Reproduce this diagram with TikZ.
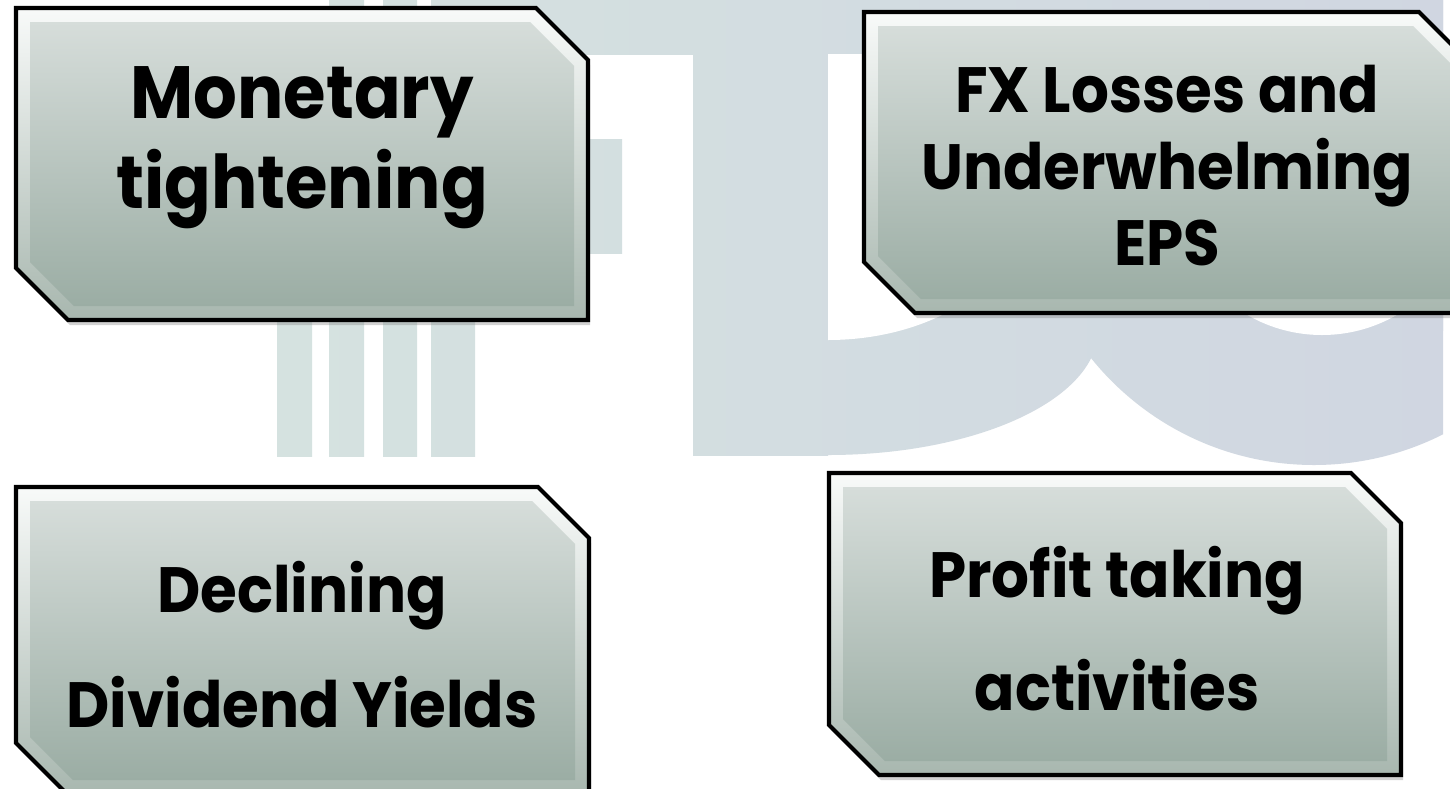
\documentclass[tikz,border=0pt]{standalone}
\usepackage{fontspec}
\setmainfont{Poppins}[FakeStretch=0.93]
\usetikzlibrary{shadows}

\definecolor{markleft}{RGB}{214,229,224}
\definecolor{markright}{RGB}{208,214,225}
\definecolor{rimtop}{RGB}{248,250,249}
\definecolor{rimbot}{RGB}{168,183,175}
\definecolor{facetop}{RGB}{214,221,218}
\definecolor{facebot}{RGB}{155,173,164}

% one piece of the faint logo, all pieces share one left-right tint
\newcommand{\markpatch}[1]{%
  \begin{scope}
    \clip #1;
    \shade [left color=markleft, right color=markright] (0,0) rectangle (1450,788);
  \end{scope}}

% box with cut corners (top right, bottom left): x1, y1, x2, y2, cut
\newcommand{\cutbox}[5]{%
  \shadedraw [boxrim] (#1,#2) -- ({#3-#5},#2) -- (#3,{#2+#5}) -- (#3,#4)
    -- ({#1+#5},#4) -- (#1,{#4-#5}) -- cycle;
  \shade [boxface] ({#1+14},{#2+14}) -- ({#3-#5-5.8},{#2+14})
    -- ({#3-14},{#2+#5+5.8}) -- ({#3-14},{#4-14})
    -- ({#1+#5+5.8},{#4-14}) -- ({#1+14},{#4-#5-5.8}) -- cycle;}

\begin{document}
\begin{tikzpicture}[x=1pt, y=-1pt,
    boxrim/.style={top color=rimtop, bottom color=rimbot, draw=black,
        line width=4.2pt, line join=miter,
        drop shadow={opacity=0.35, shadow xshift=2pt, shadow yshift=-5pt}},
    boxface/.style={top color=facetop, bottom color=facebot},
    boxtext/.style={anchor=base, inner sep=0pt, text=black,
        font=\fontsize{64}{70}\selectfont\bfseries},
    bigtext/.style={boxtext, font=\fontsize{74}{80}\selectfont\bfseries}]

    \useasboundingbox (0,0) rectangle (1450,788);
    \fill [white] (0,0) rectangle (1450,788);

    % --- 1. Faint logo in the background ---
    \markpatch{(277,60) rectangle (312,456)}
    \markpatch{(329,0) rectangle (364,456)}
    \markpatch{(383,0) rectangle (417,456)}
    \markpatch{(431,0) rectangle (475,456)}
    \markpatch{(475,0) rectangle (828,54)}
    \markpatch{(475,139) rectangle (622,253)}
    \markpatch{(693,0) rectangle (828,455)}
    \markpatch{(828,0) rectangle (1443,330)}
    \begin{scope}
        \clip (828,0) rectangle (1443,788);
        \markpatch{(828,330) ellipse [x radius=270, y radius=125]}
        \markpatch{(1314,179) circle [radius=286]}
    \end{scope}

    % holes of the two round letters
    \begin{scope}
        \clip (828,54) rectangle (1443,788);
        \fill [white] (828,200) ellipse [x radius=200, y radius=140];
        \fill [white] (828,54) rectangle (1028,200);
        \fill [white] (1322,186) circle [radius=149];
    \end{scope}

    % --- 2. Four bevelled boxes ---
    \cutbox{16}{8}{588}{320}{52}
    \cutbox{864}{12}{1470}{313}{51}
    \cutbox{16}{487}{589}{794}{51}
    \cutbox{829}{473}{1401}{775}{50}

    % --- 3. Box texts ---
    \node [bigtext] (mon1) at (302,118) {Monetary};
    \node [bigtext] (mon2) at (302,208) {tightening};

    \node [boxtext] (fx1) at (1167,112) {FX Losses and};
    \node [boxtext] (fx2) at (1167,189) {Underwhelming};
    \node [boxtext] (fx3) at (1167,265) {EPS};

    \node [boxtext] (div1) at (302,612) {Declining};
    \node [boxtext] (div2) at (302,727) {Dividend Yields};

    \node [boxtext] (pro1) at (1117,597) {Profit taking};
    \node [boxtext] (pro2) at (1117,710) {activities};

\end{tikzpicture}
\end{document}
